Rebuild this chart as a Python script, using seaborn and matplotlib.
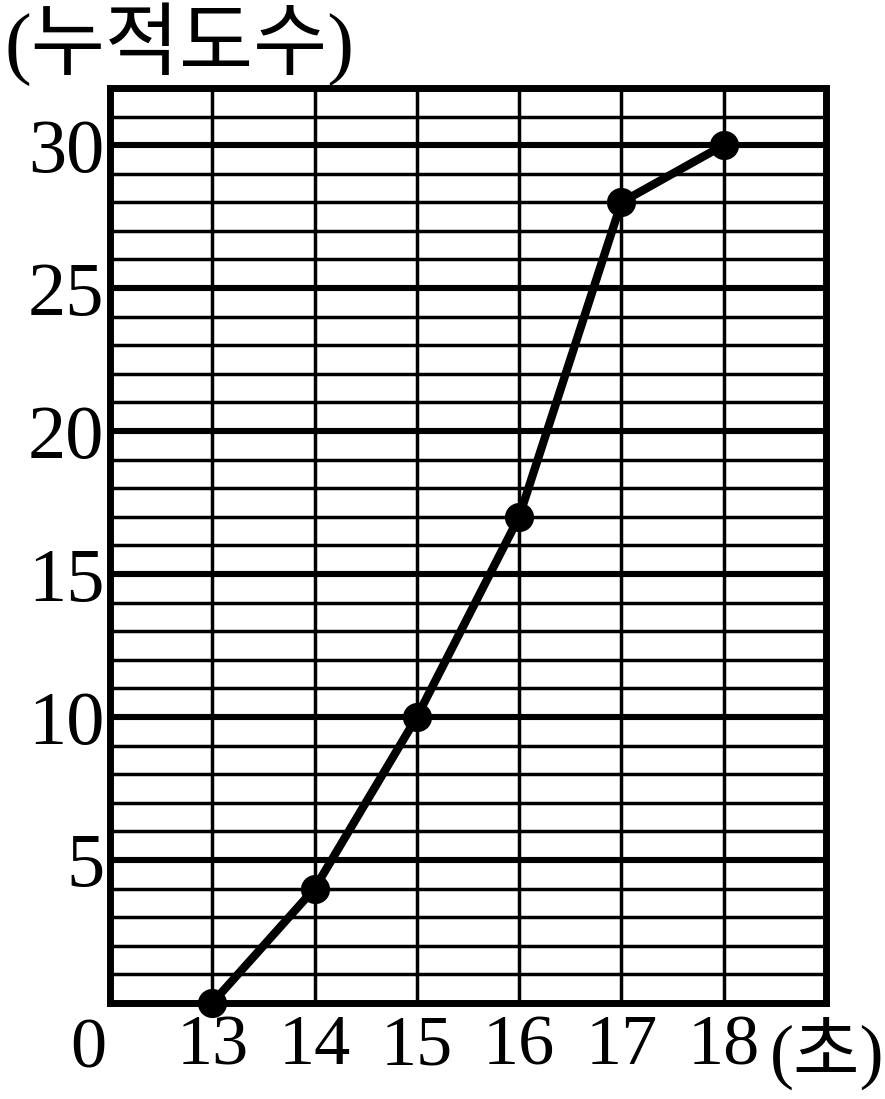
import numpy as np
import pandas as pd
import seaborn as sns
import matplotlib.pyplot as plt
from matplotlib.ticker import MultipleLocator

# cumulative frequency polygon
seconds = [13, 14, 15, 16, 17, 18]
cum_freq = [0, 4, 10, 17, 28, 30]
y_labels = [5, 10, 15, 20, 25, 30]

sns.set_style("white")
plt.rcParams['font.family'] = ['Liberation Serif', 'Noto Sans CJK KR', 'DejaVu Sans']
plt.rcParams['text.color'] = 'black'
plt.rcParams['xtick.color'] = 'black'
plt.rcParams['ytick.color'] = 'black'

df = pd.DataFrame({"sec": seconds, "cum": cum_freq})

fig = plt.figure(figsize=(8.85, 10.99), dpi=100)
ax = fig.add_axes([0.1243, 0.0874, 0.809, 0.8326])

ax.set_xlim(12, 19)
ax.set_ylim(0, 32)

ax.xaxis.set_major_locator(MultipleLocator(1))
ax.yaxis.set_major_locator(MultipleLocator(5))
ax.yaxis.set_minor_locator(MultipleLocator(1))
ax.grid(True, which="major", axis="x", color="black", linewidth=2.5)
ax.grid(True, which="minor", axis="y", color="black", linewidth=2.5)
ax.grid(True, which="major", axis="y", color="black", linewidth=4.4)
ax.set_axisbelow(True)

sns.lineplot(data=df, x="sec", y="cum", ax=ax, color="black", linewidth=6,
             marker="o", markersize=21, markeredgewidth=0, clip_on=False, zorder=5)

for s in ax.spines.values():
    s.set_linewidth(5)
    s.set_color("black")
    s.set_zorder(4)

ax.set_xticks(seconds)
ax.set_xticklabels([str(s) for s in seconds])
ax.set_yticks(y_labels)
ax.set_yticklabels([str(v) for v in y_labels])
ax.tick_params(axis="both", which="both", length=0, labelsize=52, labelcolor="black")
ax.tick_params(axis="y", labelsize=55)
ax.tick_params(axis="x", pad=8)
ax.tick_params(axis="y", pad=4)
ax.set_xlabel("")
ax.set_ylabel("")

ax.text(11.79, -0.5, "0", fontsize=52, ha="center", va="top")
ax.text(18.45, -0.5, "(초)", fontsize=52, ha="left", va="top")
fig.text(0.005, 0.998, "(누적도수)", fontsize=58, ha="left", va="top")

fig.savefig("out.png", dpi=100)
